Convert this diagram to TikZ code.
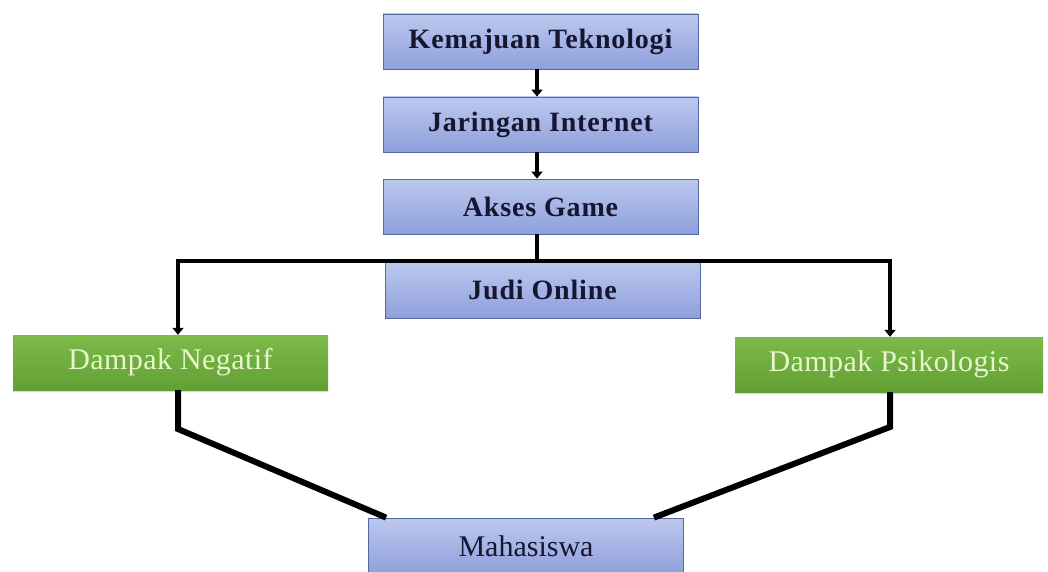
\documentclass[tikz,border=0pt]{standalone}
\usepackage{fontspec}
\setmainfont{Liberation Serif}
\usepackage{tikz}
\usetikzlibrary{arrows.meta,positioning,shadows}
\definecolor{boxtop}{RGB}{188,200,238}
\definecolor{boxbot}{RGB}{142,160,220}
\definecolor{boxline}{RGB}{86,104,160}
\definecolor{greentop}{RGB}{124,186,74}
\definecolor{greenbot}{RGB}{98,160,52}
\definecolor{greentext}{RGB}{232,246,204}
\definecolor{inktext}{RGB}{22,22,48}
\tikzset{
  bluebox/.style={draw=boxline,line width=0.8pt,top color=boxtop,bottom color=boxbot,
    minimum width=315pt,minimum height=55pt,inner sep=0pt,text=inktext,
    font=\fontsize{28}{32}\selectfont\bfseries\addfontfeatures{LetterSpace=3}},
  greenbox/.style={top color=greentop,bottom color=greenbot,draw=none,
    minimum height=55pt,inner sep=0pt,text=greentext,
    font=\fontsize{30}{34}\selectfont\addfontfeatures{LetterSpace=1.5},
    drop shadow={opacity=0.3,shadow xshift=0pt,shadow yshift=-2pt}},
}
\begin{document}
\begin{tikzpicture}[x=1pt,y=1pt,
    flow/.style={line width=4pt,-{Triangle[width=11pt,length=7pt]}},
    link/.style={line width=4pt},
    leg/.style={line width=6pt,line join=miter},
  ]
  \useasboundingbox[fill=white] (0,0) rectangle (1048,-572);
  % chain of blue boxes
  \node[bluebox] (kemajuan) at (540.5,-41.5) {Kemajuan Teknologi};
  \node[bluebox] (jaringan) at (540.5,-124.5) {Jaringan Internet};
  \node[bluebox] (akses) at (540.5,-206.5) {Akses Game};
  \node[bluebox,minimum height=56pt] (judi) at (542.5,-290) {Judi Online};
  % the two effects
  \node[greenbox,minimum width=315pt] (negatif) at (170.5,-362.5) {Dampak Negatif};
  \node[greenbox,minimum width=308pt] (psikologis) at (889,-364.5) {Dampak Psikologis};
  \node[bluebox,font=\fontsize{30}{34}\selectfont,minimum height=56pt] (mahasiswa) at (526,-546) {Mahasiswa};
  \draw[flow] ([xshift=-3.5pt]kemajuan.south) -- ([xshift=-3.5pt]jaringan.north);
  \draw[flow] ([xshift=-3.5pt]jaringan.south) -- ([xshift=-3.5pt]akses.north);
  \coordinate (busL) at (178,-261);
  \coordinate (busR) at (890,-261);
  \draw[link] ([xshift=-3.5pt]akses.south) -- ([xshift=-3.5pt]akses.south |- busL);
  \draw[link] ([xshift=-2pt]busL) -- ([xshift=2pt]busR);
  \draw[flow] (busL) -- (busL |- negatif.north);
  \draw[flow] (busR) -- (busR |- psikologis.north);
  % legs down to Mahasiswa
  \coordinate (kneeL) at (178,-429);
  \coordinate (kneeR) at (890,-427);
  \draw[leg] (kneeL |- negatif.south) -- (kneeL) -- ([xshift=18pt]mahasiswa.north west);
  \draw[leg] (kneeR |- psikologis.south) -- (kneeR) -- ([xshift=-30pt]mahasiswa.north east);
\end{tikzpicture}
\end{document}
